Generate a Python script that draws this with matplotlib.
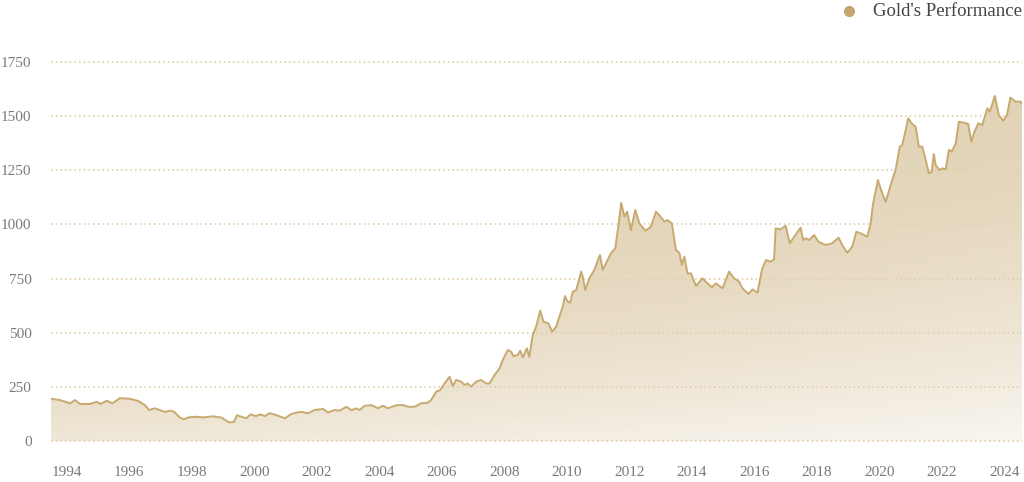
import numpy as np
import matplotlib.pyplot as plt
from matplotlib.lines import Line2D
from matplotlib.colors import to_rgb

# decimal years and values
years = [1993.50, 1993.79, 1994.11, 1994.27, 1994.43, 1994.75, 1994.96, 1995.09, 1995.28, 1995.47,
         1995.70, 1996.02, 1996.29, 1996.50, 1996.64, 1996.82, 1996.98, 1997.14, 1997.30, 1997.44,
         1997.62, 1997.75, 1997.89, 1998.15, 1998.37, 1998.69, 1998.95, 1999.20, 1999.35, 1999.45,
         1999.59, 1999.75, 1999.88, 2000.05, 2000.20, 2000.34, 2000.50, 2000.71, 2000.98, 2001.19,
         2001.35, 2001.51, 2001.72, 2001.93, 2002.20, 2002.36, 2002.57, 2002.73, 2002.95, 2003.11,
         2003.27, 2003.37, 2003.53, 2003.75, 2003.96, 2004.12, 2004.28, 2004.54, 2004.76, 2004.92,
         2005.13, 2005.34, 2005.55, 2005.66, 2005.82, 2005.95, 2006.09, 2006.25, 2006.35, 2006.46,
         2006.62, 2006.73, 2006.83, 2006.94, 2007.10, 2007.26, 2007.42, 2007.53, 2007.69, 2007.85,
         2007.95, 2008.11, 2008.22, 2008.29, 2008.43, 2008.51, 2008.59, 2008.72, 2008.80, 2008.91,
         2009.02, 2009.15, 2009.25, 2009.41, 2009.53, 2009.66, 2009.76, 2009.87, 2009.94, 2010.03,
         2010.11, 2010.19, 2010.30, 2010.46, 2010.51, 2010.59, 2010.72, 2010.88, 2011.06, 2011.15,
         2011.25, 2011.41, 2011.55, 2011.66, 2011.74, 2011.84, 2011.93, 2012.05, 2012.19, 2012.32,
         2012.51, 2012.69, 2012.85, 2012.98, 2013.12, 2013.22, 2013.36, 2013.49, 2013.60, 2013.68,
         2013.76, 2013.86, 2013.97, 2014.13, 2014.34, 2014.50, 2014.64, 2014.77, 2014.98, 2015.19,
         2015.35, 2015.51, 2015.62, 2015.81, 2015.94, 2016.10, 2016.24, 2016.37, 2016.52, 2016.63,
         2016.68, 2016.84, 2017.00, 2017.13, 2017.27, 2017.48, 2017.56, 2017.64, 2017.75, 2017.91,
         2018.05, 2018.28, 2018.49, 2018.69, 2018.81, 2018.97, 2019.13, 2019.26, 2019.40, 2019.61,
         2019.72, 2019.79, 2019.95, 2020.09, 2020.20, 2020.36, 2020.52, 2020.65, 2020.73, 2020.84,
         2020.92, 2021.03, 2021.16, 2021.26, 2021.37, 2021.48, 2021.58, 2021.67, 2021.74, 2021.80,
         2021.92, 2022.01, 2022.12, 2022.22, 2022.31, 2022.44, 2022.54, 2022.70, 2022.84, 2022.94,
         2023.02, 2023.16, 2023.29, 2023.45, 2023.53, 2023.69, 2023.82, 2023.96, 2024.08, 2024.19,
         2024.35, 2024.51, 2024.56]
values = [195, 189, 174, 189, 171, 171, 181, 171, 186, 174,
          198, 195, 185, 166, 143, 151, 143, 134, 140, 135,
          108, 100, 109, 112, 109, 114, 108, 86, 88, 119,
          112, 105, 123, 115, 123, 115, 129, 119, 105, 125,
          131, 135, 128, 143, 148, 132, 143, 140, 158, 142,
          151, 143, 162, 166, 151, 163, 151, 165, 166, 158,
          158, 174, 177, 189, 228, 235, 266, 297, 254, 282,
          274, 259, 266, 251, 274, 282, 266, 266, 305, 336,
          374, 420, 412, 392, 397, 417, 386, 428, 389, 489,
          528, 602, 551, 543, 505, 528, 574, 620, 669, 643,
          639, 689, 697, 782, 759, 697, 751, 790, 859, 790,
          820, 867, 890, 1005, 1100, 1036, 1059, 974, 1067, 1005,
          971, 989, 1059, 1039, 1013, 1020, 1005, 882, 869, 813,
          851, 774, 774, 716, 751, 728, 710, 728, 705, 782,
          751, 736, 705, 679, 700, 685, 790, 836, 828, 839,
          982, 977, 994, 913, 943, 985, 928, 936, 928, 951,
          920, 905, 913, 939, 905, 869, 897, 966, 959, 943,
          1005, 1090, 1205, 1144, 1105, 1182, 1254, 1359, 1367, 1436,
          1490, 1467, 1451, 1359, 1359, 1297, 1236, 1243, 1325, 1274,
          1251, 1259, 1254, 1344, 1336, 1374, 1474, 1470, 1464, 1382,
          1421, 1467, 1459, 1536, 1520, 1593, 1505, 1479, 1505, 1586,
          1567, 1567, 1556]

tick_years = list(range(1994, 2025, 2))
y_ticks = [0, 250, 500, 750, 1000, 1250, 1500, 1750]
series_name = "Gold's Performance"

line_color = '#c8aa70'
grid_color = '#e2cfab'
label_color = '#7a7a7a'

plt.rcParams['font.family'] = ['Liberation Serif', 'DejaVu Serif']

fig = plt.figure(figsize=(10.24, 4.82), dpi=100)
ax = fig.add_axes([51 / 1024, 1 - 441 / 482, 971 / 1024, 379 / 482])

x = np.array(years)
y = np.array(values)
x0, x1 = x[0], x[-1]

# gradient fill under the curve (lighter towards the bottom, more so on the right)
poly = ax.fill_between(x, y, 0, color='none', lw=0)
top = np.array(to_rgb('#e2d3b6'))
white = np.array(to_rgb('#fbf9f6'))
gy, gx = np.mgrid[0:1:200j, 0:1:300j]   # gy: 0 at top, 1 at bottom
amp = 0.52 + 0.38 * gx
pw = 4.0 - 2.2 * gx
t = np.clip(amp * gy ** pw, 0, 1)
img = top[None, None, :] * (1 - t[..., None]) + white[None, None, :] * t[..., None]
im = ax.imshow(img, extent=[x0, x1, 0, 1750], origin='upper', aspect='auto', zorder=1)
im.set_clip_path(poly.get_paths()[0], transform=ax.transData)

ax.plot(x, y, color=line_color, lw=1.4, zorder=3)

ax.set_xlim(x0, x1)
ax.set_ylim(0, 1750)
ax.set_yticks(y_ticks)
ax.set_xticks(tick_years)
ax.set_xticklabels([str(v) for v in tick_years])
for yv in y_ticks:
    ax.axhline(yv, color=grid_color, lw=1.2, ls=(0, (1, 1.8)), zorder=2, clip_on=False)

for s in ax.spines.values():
    s.set_visible(False)
ax.tick_params(axis='both', length=0, labelcolor=label_color, labelsize=11)
ax.tick_params(axis='y', pad=14)
ax.tick_params(axis='x', pad=18)

# legend at top right
fig.add_artist(Line2D([849 / 1024], [1 - 11 / 482], marker='o', markersize=7,
                      color='#c4a570', transform=fig.transFigure))
fig.text(1022 / 1024, 1 - 11 / 482, series_name, ha='right', va='center',
         fontsize=13.5, color='#444444')

fig.savefig('out.png', dpi=100)
